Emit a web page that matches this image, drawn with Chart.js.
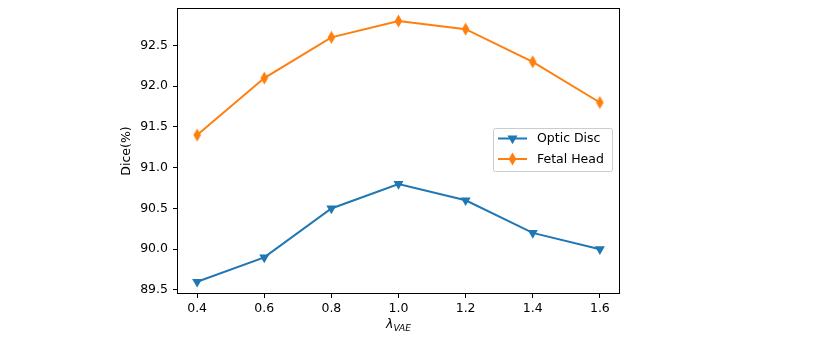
<!DOCTYPE html>
<html><head><meta charset="utf-8">
<script src="https://cdn.jsdelivr.net/npm/chart.js@4/dist/chart.umd.min.js"></script>
<style>html,body{margin:0;padding:0;background:#fff}</style>
</head><body>
<canvas id="c" width="830" height="337" style="display:block;width:830px;height:337px"></canvas>
<script>
const lambdaValues = [0.4, 0.6, 0.8, 1.0, 1.2, 1.4, 1.6];
const opticDisc = [89.6, 89.9, 90.5, 90.8, 90.6, 90.2, 90.0];
const fetalHead = [91.4, 92.1, 92.6, 92.8, 92.7, 92.3, 91.8];
const yTicks = [89.5, 90.0, 90.5, 91.0, 91.5, 92.0, 92.5];
const seriesNames = ['Optic Disc', 'Fetal Head'];
const yTitle = 'Dice(%)';
const xTitleMain = 'λ';
const xTitleSub = 'VAE';

const BLUE = '#1f77b4', ORANGE = '#ff7f0e';
const FONT = '"DejaVu Sans", sans-serif';

function thinDiamond(color) {
  const c = document.createElement('canvas');
  c.width = 9; c.height = 14;
  const g = c.getContext('2d');
  g.fillStyle = color;
  g.beginPath();
  g.moveTo(4.5, 0.5); g.lineTo(8.3, 7); g.lineTo(4.5, 13.5); g.lineTo(0.7, 7);
  g.closePath(); g.fill();
  return c;
}
const diamondImg = thinDiamond(ORANGE);

const pts = arr => arr.map((v, i) => ({x: lambdaValues[i], y: v}));

const extras = {
  id: 'extras',
  afterDraw(chart) {
    const {ctx, chartArea: a} = chart;
    ctx.save();
    ctx.strokeStyle = '#000'; ctx.lineWidth = 1;
    ctx.strokeRect(Math.round(a.left) + 0.5, Math.round(a.top) + 0.5,
                   Math.round(a.right - a.left) - 1, Math.round(a.bottom - a.top) - 1);
    ctx.fillStyle = '#000';
    ctx.font = '12.5px ' + FONT;
    ctx.textAlign = 'center'; ctx.textBaseline = 'middle';
    ctx.save();
    ctx.translate(127, (a.top + a.bottom) / 2);
    ctx.rotate(-Math.PI / 2);
    ctx.fillText(yTitle, 0, 0);
    ctx.restore();
    ctx.textAlign = 'left'; ctx.textBaseline = 'alphabetic';
    ctx.font = 'italic 12.5px ' + FONT;
    const w1 = ctx.measureText(xTitleMain).width;
    ctx.font = 'italic 9px ' + FONT;
    const w2 = ctx.measureText(xTitleSub).width;
    const cx = (a.left + a.right) / 2;
    const sx = cx - (w1 + w2) / 2;
    ctx.font = 'italic 12.5px ' + FONT;
    ctx.fillText(xTitleMain, sx, 328);
    ctx.font = 'italic 9px ' + FONT;
    ctx.fillText(xTitleSub, sx + w1, 331);
    const lx = 493.5, ly = 128.5, lw = 119, lh = 43;
    ctx.fillStyle = 'rgba(255,255,255,0.8)';
    ctx.strokeStyle = '#cccccc'; ctx.lineWidth = 1;
    ctx.beginPath();
    if (ctx.roundRect) ctx.roundRect(lx, ly, lw, lh, 2); else ctx.rect(lx, ly, lw, lh);
    ctx.fill(); ctx.stroke();
    const rows = [
      {y: 138.5, color: BLUE, name: seriesNames[0], tri: true},
      {y: 159, color: ORANGE, name: seriesNames[1], tri: false}
    ];
    rows.forEach(r => {
      ctx.strokeStyle = r.color; ctx.lineWidth = 2;
      ctx.beginPath(); ctx.moveTo(498, r.y); ctx.lineTo(527, r.y); ctx.stroke();
      if (r.tri) {
        ctx.fillStyle = r.color;
        ctx.beginPath();
        const R = 5.8;
        ctx.moveTo(512.5 - R * 0.866, r.y - R * 0.5);
        ctx.lineTo(512.5 + R * 0.866, r.y - R * 0.5);
        ctx.lineTo(512.5, r.y + R);
        ctx.closePath(); ctx.fill();
      } else {
        ctx.drawImage(diamondImg, 512.5 - 4.5, r.y - 7);
      }
      ctx.fillStyle = '#000';
      ctx.font = '12.5px ' + FONT;
      ctx.textAlign = 'left'; ctx.textBaseline = 'middle';
      ctx.fillText(r.name, 537, r.y + 0.5);
    });
    ctx.restore();
  }
};

new Chart(document.getElementById('c'), {
  type: 'line',
  data: {
    datasets: [
      {label: seriesNames[0], data: pts(opticDisc), borderColor: BLUE, backgroundColor: BLUE,
       borderWidth: 2, pointStyle: 'triangle', rotation: 180, pointRadius: 5.8, pointBorderWidth: 0,
       pointBackgroundColor: BLUE, fill: false, tension: 0},
      {label: seriesNames[1], data: pts(fetalHead), borderColor: ORANGE, backgroundColor: ORANGE,
       borderWidth: 2, pointStyle: diamondImg, pointRadius: 6, fill: false, tension: 0}
    ]
  },
  options: {
    responsive: false, animation: false, devicePixelRatio: 1,
    layout: {padding: {left: 0, right: 210, top: 5, bottom: 0}},
    plugins: {legend: {display: false}, tooltip: {enabled: false}},
    events: [],
    scales: {
      x: {
        type: 'linear', min: 0.34, max: 1.66,
        afterBuildTicks: s => { s.ticks = lambdaValues.map(v => ({value: v})); },
        afterFit: s => { s.height = 43; s.paddingLeft = 0; s.paddingRight = 0; },
        ticks: {callback: v => v.toFixed(1), color: '#000', font: {family: FONT, size: 12.5}, padding: 3, maxRotation: 0},
        grid: {display: true, drawOnChartArea: false, drawTicks: true, tickLength: 4, color: '#000'},
        border: {display: false}
      },
      y: {
        type: 'linear', min: 89.45, max: 92.96,
        afterBuildTicks: s => { s.ticks = yTicks.map(v => ({value: v})); },
        afterFit: s => { s.width = 177; s.paddingTop = 0; s.paddingBottom = 0; },
        ticks: {callback: v => v.toFixed(1), color: '#000', font: {family: FONT, size: 12.5}, padding: 5},
        grid: {display: true, drawOnChartArea: false, drawTicks: true, tickLength: 4, color: '#000'},
        border: {display: false}
      }
    }
  },
  plugins: [extras]
});
</script>
</body></html>
